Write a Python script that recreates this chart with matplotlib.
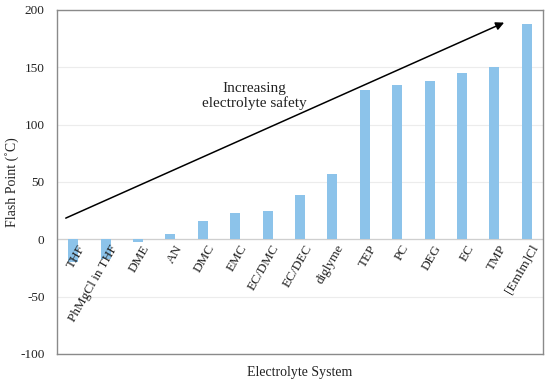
import matplotlib.pyplot as plt
import numpy as np

# Data
systems = ['THF', 'PhMgCl in THF', 'DME', 'AN', 'DMC', 'EMC', 'EC/DMC', 'EC/DEC',
           'diglyme', 'TEP', 'PC', 'DEG', 'EC', 'TMP', '[EmIm]Cl']
flash_points = [-20, -17, -2, 5, 16, 23, 25, 39, 57, 130, 135, 138, 145, 150, 188]
y_ticks = [-100, -50, 0, 50, 100, 150, 200]

plt.rcParams['font.family'] = ['Liberation Serif', 'DejaVu Serif']
plt.rcParams['axes.unicode_minus'] = False

fig = plt.figure(figsize=(5.5, 3.84), dpi=100)
ax = fig.add_axes([57/550, 1 - 354/384, 486/550, 344/384])

x = np.arange(len(systems))
ax.bar(x, flash_points, width=0.31, color='#8cc3ea', zorder=3)

ax.set_xlim(-0.5, len(systems) - 0.5)
ax.set_ylim(-100, 200)
ax.set_yticks(y_ticks)
ax.tick_params(axis='y', length=0, labelsize=9.5, colors='#222222', pad=9)
ax.tick_params(axis='x', length=0)
ax.grid(axis='y', color='#ececec', linewidth=0.8, zorder=0)
ax.axhline(0, color='#cfcfcf', linewidth=0.9, zorder=2)

# category labels sit just under zero line, rotated
ax.set_xticks(x)
ax.set_xticklabels([])
for xi, name in zip(x, systems):
    ax.text(xi + 0.12, -3, name, rotation=60, ha='right', va='top',
            rotation_mode='anchor', fontsize=9.5, color='#222222', zorder=4)

for side in ['top', 'bottom', 'left', 'right']:
    ax.spines[side].set_color('#8a8a8a')
    ax.spines[side].set_linewidth(1.0)

ax.set_ylabel('Flash Point (˚C)', fontsize=10, color='#222222', va='center')
ax.yaxis.set_label_coords(-0.093, 0.5)
ax.set_xlabel('Electrolyte System', fontsize=10, color='#222222')
ax.xaxis.set_label_coords(0.5, -0.036)

# trend arrow
ax.annotate('', xy=(13.3, 189), xytext=(-0.23, 18.5),
            arrowprops=dict(arrowstyle='-|>', color='black', lw=1.1,
                            mutation_scale=12, shrinkA=0, shrinkB=0), zorder=5)
ax.text(5.6, 125, 'Increasing\nelectrolyte safety', ha='center', va='center',
        fontsize=11, color='#222222', linespacing=1.05)

fig.savefig('out.png', dpi=100)
